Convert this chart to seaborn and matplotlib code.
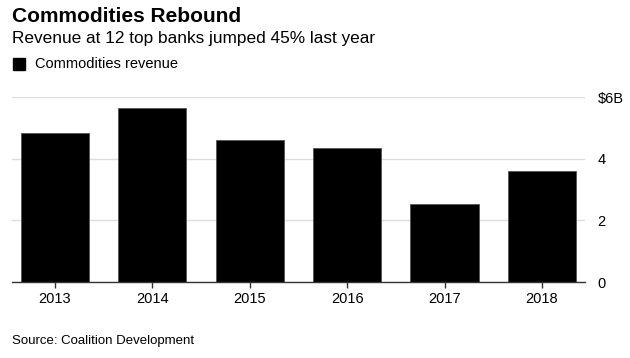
import matplotlib
matplotlib.use("Agg")
import matplotlib.pyplot as plt
import seaborn as sns
import pandas as pd

years = ["2013", "2014", "2015", "2016", "2017", "2018"]
revenue = [4.84, 5.65, 4.61, 4.35, 2.53, 3.6]
ytick_vals = [0, 2, 4, 6]
ytick_labels = ["0", "2", "4", "$6B"]

sns.set_theme(style="white")
plt.rcParams['font.family'] = ['Liberation Sans', 'DejaVu Sans']

df = pd.DataFrame({"year": years, "revenue": revenue})

fig = plt.figure(figsize=(6.30, 3.58), dpi=100)
ax = fig.add_axes([12/630, 1 - 282/358, (585-12)/630, (282-97)/358])

sns.barplot(data=df, x="year", y="revenue", color="black", width=0.70,
            saturation=1, ax=ax, edgecolor="#555555", linewidth=0.6)

ax.set_ylim(0, 6)
ax.set_xlim(-0.441, 5.442)
ax.yaxis.tick_right()
ax.set_yticks(ytick_vals)
ax.set_yticklabels(ytick_labels, fontsize=10.5, color="black")
ax.tick_params(axis="y", length=0, pad=9)
ax.tick_params(axis="x", length=4, width=1, color="#333333", direction="out",
               labelsize=10.5, labelcolor="black", pad=3)
ax.xaxis.set_ticks_position("bottom")
ax.grid(axis="y", color="#dddddd", linewidth=1)
ax.set_axisbelow(True)
for s in ["top", "left", "right"]:
    ax.spines[s].set_visible(False)
ax.spines["bottom"].set_color("#333333")
ax.spines["bottom"].set_linewidth(1)
ax.set_xlabel("")
ax.set_ylabel("")

fig.text(12/630, 1 - 17/358, "Commodities Rebound", fontsize=15, fontweight="bold",
         va="center", ha="left", color="black")
fig.text(12/630, 1 - 38/358, "Revenue at 12 top banks jumped 45% last year", fontsize=12.4,
         va="center", ha="left", color="black")
fig.patches.append(plt.Rectangle((13/630, 1 - 70/358), 12/630, 12/358,
                                 transform=fig.transFigure, color="black"))
fig.text(35/630, 1 - 64/358, "Commodities revenue", fontsize=10.5,
         va="center", ha="left", color="black")
fig.text(12/630, 1 - 341/358, "Source: Coalition Development", fontsize=9.5,
         va="center", ha="left", color="black")

fig.savefig("out.png", dpi=100)
